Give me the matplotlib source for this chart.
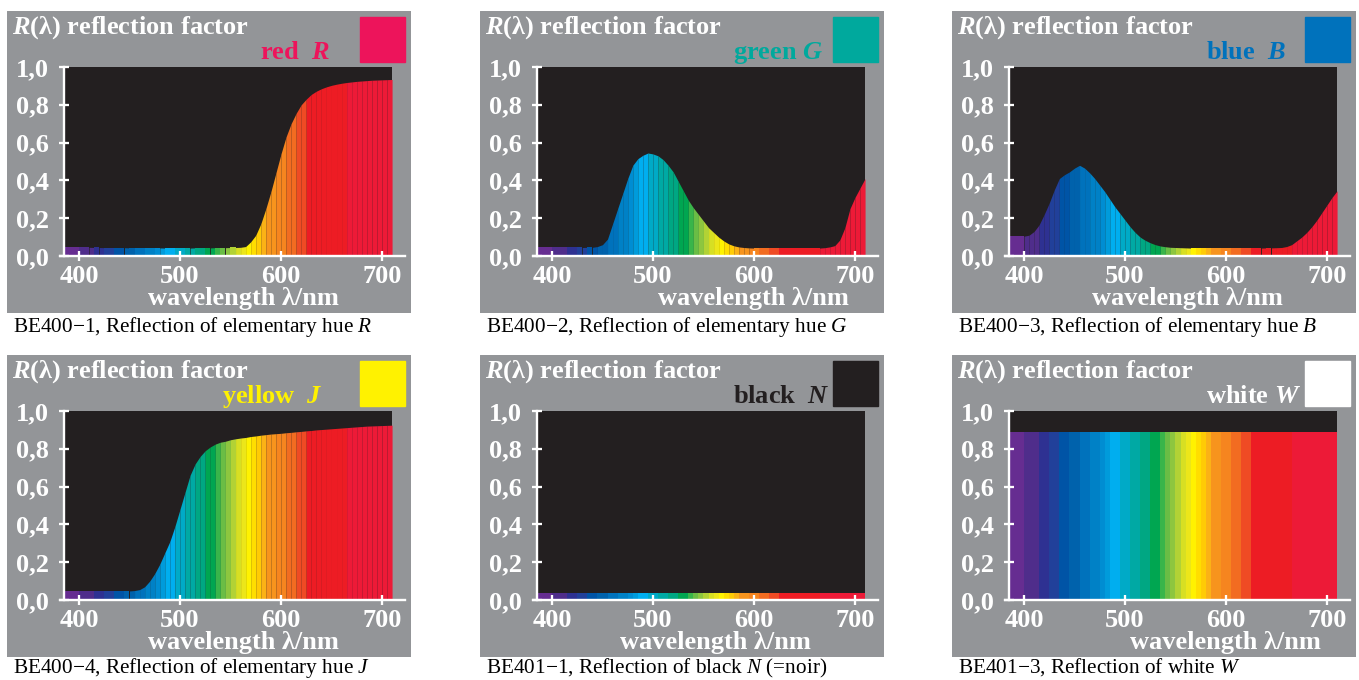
import bisect
import matplotlib
matplotlib.use("Agg")
import matplotlib.pyplot as plt
from matplotlib.patches import Rectangle
from matplotlib.ticker import FuncFormatter

plt.rcParams['font.family'] = ['Liberation Serif', 'DejaVu Serif']
plt.rcParams['font.weight'] = 'bold'
plt.rcParams['mathtext.fontset'] = 'custom'
plt.rcParams['mathtext.rm'] = 'Liberation Serif:normal'
plt.rcParams['mathtext.it'] = 'Liberation Serif:italic:normal'
plt.rcParams['mathtext.bf'] = 'Liberation Serif:bold'
plt.rcParams['mathtext.bfit'] = 'Liberation Serif:italic:bold'

GRAY = '#939598'
BLACK = '#231F20'

# wavelength grid, 5 nm steps
wavelengths = [385, 390, 395, 400, 405, 410, 415, 420, 425, 430, 435, 440, 445, 450,
               455, 460, 465, 470, 475, 480, 485, 490, 495, 500, 505, 510, 515, 520,
               525, 530, 535, 540, 545, 550, 555, 560, 565, 570, 575, 580, 585, 590,
               595, 600, 605, 610, 615, 620, 625, 630, 635, 640, 645, 650, 655, 660,
               665, 670, 675, 680, 685, 690, 695, 700, 705, 710]

refl_red = [0.046, 0.046, 0.046, 0.046, 0.046, 0.046, 0.045, 0.045, 0.044, 0.044, 0.044, 0.044,
            0.044, 0.043, 0.043, 0.043, 0.043, 0.043, 0.043, 0.043, 0.042, 0.042, 0.042, 0.042,
            0.042, 0.042, 0.043, 0.043, 0.043, 0.043, 0.044, 0.044, 0.044, 0.045, 0.045, 0.046,
            0.05, 0.075, 0.11, 0.17, 0.25, 0.34, 0.44, 0.54, 0.63, 0.70, 0.755, 0.80,
            0.83, 0.855, 0.872, 0.885, 0.895, 0.903, 0.909, 0.914, 0.918, 0.921, 0.924, 0.926,
            0.928, 0.93, 0.931, 0.932, 0.933, 0.934]

refl_green = [0.045, 0.045, 0.045, 0.045, 0.045, 0.045, 0.045, 0.045, 0.045, 0.045, 0.046, 0.046,
              0.05, 0.06, 0.09, 0.17, 0.25, 0.33, 0.41, 0.48, 0.515, 0.533, 0.545, 0.54,
              0.53, 0.51, 0.48, 0.445, 0.395, 0.345, 0.295, 0.255, 0.22, 0.185, 0.15, 0.125,
              0.10, 0.08, 0.064, 0.054, 0.048, 0.045, 0.043, 0.042, 0.042, 0.042, 0.042, 0.042,
              0.042, 0.042, 0.042, 0.042, 0.042, 0.042, 0.042, 0.042, 0.042, 0.044, 0.048, 0.055,
              0.085, 0.15, 0.25, 0.31, 0.36, 0.41]

refl_blue = [0.105, 0.105, 0.105, 0.105, 0.11, 0.13, 0.165, 0.22, 0.28, 0.35, 0.41, 0.43,
             0.445, 0.465, 0.48, 0.465, 0.44, 0.41, 0.375, 0.34, 0.30, 0.26, 0.225, 0.19,
             0.155, 0.125, 0.10, 0.083, 0.07, 0.06, 0.053, 0.049, 0.046, 0.045, 0.044, 0.043,
             0.042, 0.042, 0.042, 0.042, 0.042, 0.042, 0.042, 0.042, 0.042, 0.042, 0.042, 0.042,
             0.042, 0.042, 0.042, 0.043, 0.043, 0.044, 0.045, 0.05, 0.06, 0.08, 0.10, 0.125,
             0.155, 0.19, 0.23, 0.27, 0.31, 0.345]

refl_yellow = [0.048, 0.048, 0.048, 0.048, 0.048, 0.048, 0.048, 0.048, 0.048, 0.048, 0.048, 0.048,
               0.048, 0.048, 0.05, 0.055, 0.07, 0.10, 0.14, 0.19, 0.25, 0.31, 0.39, 0.48,
               0.57, 0.66, 0.72, 0.76, 0.79, 0.81, 0.825, 0.835, 0.84, 0.848, 0.853, 0.857,
               0.86, 0.865, 0.868, 0.872, 0.875, 0.878, 0.88, 0.882, 0.885, 0.887, 0.89, 0.892,
               0.895, 0.897, 0.90, 0.902, 0.904, 0.906, 0.908, 0.91, 0.912, 0.914, 0.916, 0.918,
               0.92, 0.921, 0.922, 0.923, 0.924, 0.925]

refl_black = [0.035] * len(wavelengths)
refl_white = [0.887] * len(wavelengths)

# spectral colour bands (start wavelength -> colour)
band_start = [385, 400, 415, 425, 435, 445, 455, 465, 475, 480, 485, 495, 505, 515, 525,
              535, 540, 545, 550, 555, 560, 565, 570, 575, 580, 585, 595, 605, 615, 625, 665]
band_color = ['#662D91', '#4F2D8B', '#2E3192', '#21409A', '#0054A6', '#0062AC', '#0072BC',
              '#0081C6', '#008DD2', '#009BDB', '#00AEEF', '#00AAC7', '#00A9A4', '#00A783',
              '#00A651', '#39B54A', '#6ABD45', '#8DC63F', '#B2D235', '#D7DF23', '#ECE61A',
              '#FFF200', '#FFDE00', '#FFCB05', '#FBB216', '#F7941D', '#F6851F', '#F26C21',
              '#EF4B24', '#ED1C24', '#ED1A37']

curves = [refl_red, refl_green, refl_blue, refl_yellow, refl_black, refl_white]
hue_names = ['red  ', 'green ', 'blue  ', 'yellow  ', 'black  ', 'white ']
hue_letters = ['R', 'G', 'B', 'J', 'N', 'W']
hue_colors = ['#ED145B', '#00A99D', '#0072BC', '#FFF200', BLACK, '#FFFFFF']
captions = ['BE400\u22121, Reflection of elementary hue $\\mathit{R}$',
            'BE400\u22122, Reflection of elementary hue $\\mathit{G}$',
            'BE400\u22123, Reflection of elementary hue $\\mathit{B}$',
            'BE400\u22124, Reflection of elementary hue $\\mathit{J}$',
            'BE401\u22121, Reflection of black $\\mathit{N}$ (=noir)',
            'BE401\u22123, Reflection of white $\\mathit{W}$']
y_ticks = [0.0, 0.2, 0.4, 0.6, 0.8, 1.0]
x_ticks = [400, 500, 600, 700]

# layout in pixels
W, H = 1359, 680
PW, PH = 404, 302
col_left = [7, 480, 952]
row_top = [11, 355]
caption_y = [321, 318]
label_x = [253, 253, 254, 215, 253, 254]
xlabel_x = [141, 178, 140, 141, 140, 178]
BIG = 19
SMALL = 15.3


def color_for(w):
    return band_color[bisect.bisect_right(band_start, w) - 1]


def add_px_axes(fig, x, y, w, h):
    return fig.add_axes([x / W, 1 - (y + h) / H, w / W, h / H])


fig = plt.figure(figsize=(W / 100, H / 100), dpi=100, facecolor='white')

for k in range(6):
    px = col_left[k % 3]
    py = row_top[k // 3]

    # panel background and texts, pixel coordinates
    pa = add_px_axes(fig, px, py, PW, PH)
    pa.set_xlim(0, PW)
    pa.set_ylim(PH, 0)
    pa.axis('off')
    pa.add_patch(Rectangle((0, 0), PW, PH, color=GRAY, zorder=0))
    pa.add_patch(Rectangle((353, 6), 45, 45, color=hue_colors[k], zorder=1))
    pa.text(5, 23, '$\\mathbfit{R}$(\u03bb) reflection factor', color='white',
            fontsize=BIG, va='baseline', ha='left')
    pa.text(label_x[k], 48, hue_names[k] + '$\\mathbfit{' + hue_letters[k] + '}$',
            color=hue_colors[k], fontsize=BIG, va='baseline', ha='left')
    pa.text(xlabel_x[k], 294, 'wavelength \u03bb/nm', color='white', fontsize=BIG,
            va='baseline', ha='left')
    pa.text(6, caption_y[k // 3], captions[k], color='black', fontsize=SMALL,
            fontweight='normal', va='baseline', ha='left', clip_on=False)

    # data axes
    ax = add_px_axes(fig, px + 53, py + 56, 345, 189)
    ax.set_xlim(381.2, 722.8)
    ax.set_ylim(0, 1)
    ax.patch.set_visible(False)
    ax.add_patch(Rectangle((wavelengths[0], 0), wavelengths[-1] - wavelengths[0], 1.0,
                           color=BLACK, lw=0, zorder=0.5))
    vals = curves[k]
    for i in range(len(wavelengths) - 1):
        ax.fill_between(wavelengths[i:i + 2], 0, vals[i:i + 2],
                        color=color_for(wavelengths[i]), lw=0, zorder=1)

    for s in ['top', 'right']:
        ax.spines[s].set_visible(False)
    ax.spines['left'].set_position(('data', 385.6))
    ax.spines['left'].set_bounds(0, 1)
    for s in ['left', 'bottom']:
        ax.spines[s].set_color('white')
        ax.spines[s].set_linewidth(1.7)
    ax.set_xticks(x_ticks)
    ax.set_yticks(y_ticks)
    ax.yaxis.set_major_formatter(FuncFormatter(lambda v, p: f'{v:.1f}'.replace('.', ',')))
    ax.tick_params(direction='inout', length=7.6, width=1.65, color='white',
                   labelcolor='white', labelsize=BIG)
    ax.tick_params(axis='y', pad=7.5)
    ax.tick_params(axis='x', pad=3)

fig.savefig('out.png', dpi=100, facecolor='white')
